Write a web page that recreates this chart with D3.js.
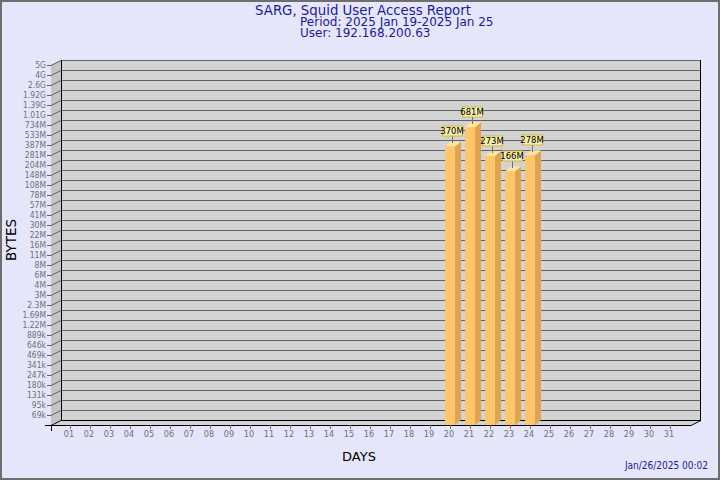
<!DOCTYPE html>
<html><head><meta charset="utf-8">
<script src="https://cdn.jsdelivr.net/npm/d3@7"></script>
<style>
html,body{margin:0;padding:0;background:#e6e6fa;}
svg{display:block;}
text{font-family:'DejaVu Sans',sans-serif;}
.cond{font-family:'DejaVu Sans Condensed','DejaVu Sans',sans-serif;font-stretch:condensed;}
</style></head>
<body><svg id="c" width="720" height="480"></svg>
<script>
// ---- data ----
const days = ["01","02","03","04","05","06","07","08","09","10","11","12","13","14","15","16","17","18","19","20","21","22","23","24","25","26","27","28","29","30","31"];
const barDays = [20, 21, 22, 23, 24];
const barBytes = [370e6, 681e6, 273e6, 166e6, 278e6];
const barLabels = ["370M", "681M", "273M", "166M", "278M"];
const yTickLabels = ["69k","95k","131k","180k","247k","341k","469k","646k","889k","1.22M","1.69M","2.3M","3M","4M","6M","8M","11M","16M","22M","30M","41M","57M","78M","108M","148M","204M","281M","387M","533M","734M","1.01G","1.39G","1.92G","2.6G","4G","5G"];
const titleLines = ["SARG, Squid User Access Report", "Period: 2025 Jan 19-2025 Jan 25", "User: 192.168.200.63"];
const stamp = "Jan/26/2025 00:02";

// ---- layout ----
const W = 720, H = 480;
const X0 = 51, Y0 = 425, YT = 65, DX = 10, DY = -5, XR = 691;
const svg = d3.select("#c");

const x = d3.scaleLinear().domain([0, 32]).range([50, 690]);
const y = d3.scaleLog().domain([5e4, 5e9]).range([Y0, YT]);
const yTick = d3.scalePoint().domain([""].concat(yTickLabels)).range([Y0, YT]);

// background + border
svg.append("rect").attr("x",1).attr("y",1).attr("width",W-2).attr("height",H-2)
  .attr("fill","#e6e6fa").attr("stroke","#6e6e6e").attr("stroke-width",2);

// back wall
svg.append("rect").attr("x",X0+DX).attr("y",YT+DY).attr("width",XR+DX-(X0+DX)).attr("height",Y0-YT)
  .attr("fill","#d3d3d3");
// side wall
svg.append("polygon").attr("points",[[X0,YT],[X0+DX,YT+DY],[X0+DX,Y0+DY],[X0,Y0]].join(" "))
  .attr("fill","#c4c4c4");
// floor
svg.append("polygon").attr("points",[[X0,Y0],[X0+DX,Y0+DY],[XR+DX,Y0+DY],[XR,Y0]].join(" "))
  .attr("fill","#d3d3d3");

// grid lines
const grid = svg.append("g").attr("stroke","#626262").attr("stroke-width",1).attr("fill","none");
yTick.domain().forEach(lbl => {
  const fy = Math.round(yTick(lbl)) + 0.5;
  if (lbl === "") return;
  grid.append("line").attr("x1",X0+DX).attr("x2",XR+DX).attr("y1",fy+DY).attr("y2",fy+DY);
  grid.append("line").attr("x1",X0).attr("x2",X0+DX).attr("y1",fy).attr("y2",fy+DY);
  grid.append("line").attr("x1",X0-4).attr("x2",X0).attr("y1",fy).attr("y2",fy);
});
// y labels
svg.append("g").selectAll("text").data(yTickLabels).join("text").attr("class","cond")
  .attr("x", X0-5).attr("y", d => yTick(d)).attr("dy","0.35em")
  .attr("text-anchor","end").attr("font-size",8.5).attr("fill","#707070").text(d => d);

// black edges
const edges = svg.append("g").attr("stroke","#000").attr("stroke-width",1).attr("fill","none");
edges.append("line").attr("x1",X0+DX+0.5).attr("x2",X0+DX+0.5).attr("y1",YT+DY).attr("y2",Y0+DY);
edges.append("line").attr("x1",XR+DX-0.5).attr("x2",XR+DX-0.5).attr("y1",YT+DY).attr("y2",Y0+DY);
edges.append("line").attr("x1",X0+DX).attr("x2",XR+DX).attr("y1",Y0+DY+0.5).attr("y2",Y0+DY+0.5);
edges.append("line").attr("x1",X0-6).attr("x2",XR).attr("y1",Y0+0.5).attr("y2",Y0+0.5);
edges.append("line").attr("x1",XR).attr("x2",XR+DX).attr("y1",Y0+0.5).attr("y2",Y0+DY+0.5);
edges.append("line").attr("x1",X0+0.5).attr("x2",X0+0.5).attr("y1",Y0).attr("y2",Y0+6);
edges.append("line").attr("x1",X0).attr("x2",X0+DX).attr("y1",Y0+0.5).attr("y2",Y0+DY+0.5);

// x ticks + labels
const xg = svg.append("g");
days.forEach((d, i) => {
  const px = Math.round(x(+d)) + 0.5;
  xg.append("line").attr("x1",px).attr("x2",px).attr("y1",Y0).attr("y2",Y0+4)
    .attr("stroke","#707070");
  xg.append("text").attr("class","cond").attr("x",px-1.5).attr("y",Y0+12).attr("text-anchor","middle")
    .attr("font-size",9).attr("fill","#707070").text(d);
});

// bars
const BW = 10, BD = 6, BH = 5;
const bars = svg.append("g");
barDays.forEach((d, i) => {
  const cx = x(d), top = y(barBytes[i]);
  const l = cx - BW/2, r = cx + BW/2;
  bars.append("polygon").attr("points",[[r,top],[r+BD,top-BH],[r+BD,Y0-BH],[r,Y0]].join(" ")).attr("fill","#dfa44f");
  bars.append("polygon").attr("points",[[l,top],[l+BD,top-BH],[r+BD,top-BH],[r,top]].join(" ")).attr("fill","#ffe49a");
  bars.append("rect").attr("x",l).attr("y",top).attr("width",BW).attr("height",Y0-top).attr("fill","#fec66b");
  // label
  const bx = Math.round(cx + 2) + 0.5, by = Math.round(top);
  bars.append("line").attr("x1",bx).attr("x2",bx).attr("y1",by-10).attr("y2",by-3).attr("stroke","#707070");
  bars.append("rect").attr("x",bx-10).attr("y",by-20).attr("width",20).attr("height",10)
    .attr("fill","#f4eeaa").attr("stroke","#d2b83c").attr("stroke-width",1);
  bars.append("text").attr("class","cond").attr("x",bx-0.5).attr("y",by-15).attr("dy","0.35em").attr("text-anchor","middle")
    .attr("font-size",9.4).attr("fill","#000").text(barLabels[i]);
});

// titles
svg.append("text").attr("x",363).attr("y",15).attr("text-anchor","middle").attr("font-size",13.3)
  .attr("fill","#1a1a99").text(titleLines[0]);
svg.append("text").attr("x",300).attr("y",26).attr("font-size",12).attr("fill","#1a1a99").text(titleLines[1]);
svg.append("text").attr("x",300).attr("y",37).attr("font-size",12).attr("fill","#1a1a99").text(titleLines[2]);

// axis titles
svg.append("text").attr("transform","translate(16,240) rotate(-90)").attr("text-anchor","middle")
  .attr("font-size",13.5).attr("fill","#000").text("BYTES");
svg.append("text").attr("x",359).attr("y",461).attr("text-anchor","middle")
  .attr("font-size",13).attr("fill","#000").text("DAYS");
svg.append("text").attr("class","cond").attr("x",708).attr("y",469).attr("text-anchor","end")
  .attr("font-size",10).attr("fill","#1a1a99").text(stamp);
</script></body></html>
